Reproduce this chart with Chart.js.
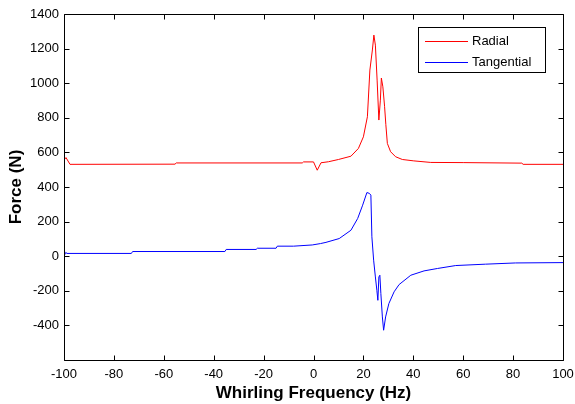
<!DOCTYPE html>
<html>
<head>
<meta charset="utf-8">
<script src="https://cdn.jsdelivr.net/npm/chart.js@4/dist/chart.umd.min.js"></script>
<style>
html,body{margin:0;padding:0;background:#fff;}
#wrap{width:575px;height:404px;position:relative;}
</style>
</head>
<body>
<div id="wrap"><canvas id="c" width="575" height="404"></canvas></div>
<script>
const xTitle = "Whirling Frequency (Hz)";
const yTitle = "Force (N)";
const seriesNames = ["Radial", "Tangential"];

const radialFreq  = [-100, -99.2, -97.6, -55.5, -55, -4.5, -4, 0, 1.5, 3, 6, 10, 15, 18, 20, 21.6, 22.6, 23.6, 24.2, 24.8, 25.5, 26.2, 26.8, 27.2, 27.8, 28.5, 29.0, 29.6, 30.9, 32.9, 35.6, 40.2, 47, 60, 83.5, 84, 100];
const radialForce = [555, 570, 531, 532, 539, 539, 545, 545, 497, 540, 546, 559, 578, 623, 690, 806, 1076, 1192, 1278, 1220, 1018, 787, 902, 1030, 979, 864, 760, 652, 604, 575, 559, 551, 542, 541, 538, 531, 531];

const tangFreq  = [-100, -99.3, -98.8, -73, -72.5, -35.5, -35, -23, -22.5, -15, -14.5, -8, -0.5, 2.8, 5, 10.3, 15, 17.7, 19.7, 21.4, 22.4, 23, 23.4, 24.1, 24.8, 25.4, 25.8, 26.2, 26.6, 27, 27.6, 28.1, 28.9, 30.2, 32.3, 34.3, 39, 44.3, 49.7, 57, 69, 81, 100];
const tangForce = [0, 22, 16, 16, 27, 27, 39, 39, 46, 46, 58, 58, 65, 73, 80, 102, 150, 218, 295, 368, 363, 353, 112, -23, -120, -197, -255, -120, -110, -216, -351, -428, -351, -274, -206, -164, -110, -85, -71, -54, -46, -39, -37];

const xTicks = [-100, -80, -60, -40, -20, 0, 20, 40, 60, 80, 100];
const yTicks = [-600, -400, -200, 0, 200, 400, 600, 800, 1000, 1200, 1400];

const toPts = (xs, ys) => xs.map((x, i) => ({x: x, y: ys[i]}));

const boxPlugin = {
  id: 'matlabBox',
  afterDraw(chart) {
    const ctx = chart.ctx;
    const a = chart.chartArea;
    const xs = chart.scales.x, ys = chart.scales.y;
    ctx.save();
    ctx.strokeStyle = '#000';
    ctx.lineWidth = 1;
    const L = Math.round(a.left) + 0.5, R = Math.round(a.right) + 0.5;
    const T = Math.round(a.top) + 0.5, B = Math.round(a.bottom) + 0.5;
    ctx.beginPath();
    ctx.rect(L, T, R - L, B - T);
    ctx.stroke();
    const tl = 5;
    ctx.beginPath();
    xTicks.forEach(v => {
      const px = Math.round(xs.getPixelForValue(v)) + 0.5;
      ctx.moveTo(px, B); ctx.lineTo(px, B - tl);
      ctx.moveTo(px, T); ctx.lineTo(px, T + tl);
    });
    yTicks.forEach(v => {
      const py = Math.round(ys.getPixelForValue(v)) + 0.5;
      ctx.moveTo(L, py); ctx.lineTo(L + tl, py);
      ctx.moveTo(R, py); ctx.lineTo(R - tl, py);
    });
    ctx.stroke();

    // legend
    const lx = 418.5, ly = 27.5, lw = 127, lh = 45;
    ctx.fillStyle = '#fff';
    ctx.fillRect(lx, ly, lw, lh);
    ctx.strokeStyle = '#000';
    ctx.strokeRect(lx, ly, lw, lh);
    ctx.font = '13px "Liberation Sans", Arial, sans-serif';
    ctx.textBaseline = 'middle';
    ctx.textAlign = 'left';
    chart.data.datasets.forEach((ds, i) => {
      const yy = Math.round(ly + 13 + i * 21.5) + 0.5;
      ctx.strokeStyle = ds.borderColor;
      ctx.beginPath();
      ctx.moveTo(425, yy); ctx.lineTo(468, yy);
      ctx.stroke();
      ctx.fillStyle = '#000';
      ctx.fillText(ds.label, 472, yy);
    });
    ctx.restore();
  }
};

new Chart(document.getElementById('c'), {
  type: 'line',
  data: {
    datasets: [
      {label: seriesNames[0], data: toPts(radialFreq, radialForce), borderColor: '#ff0000', borderWidth: 1, pointRadius: 0, tension: 0, fill: false},
      {label: seriesNames[1], data: toPts(tangFreq, tangForce), borderColor: '#0000ff', borderWidth: 1, pointRadius: 0, tension: 0, fill: false}
    ]
  },
  options: {
    responsive: false,
    animation: false,
    devicePixelRatio: 1,
    layout: {padding: {top: 14, right: 12, left: 0, bottom: 0}},
    plugins: {legend: {display: false}, tooltip: {enabled: false}},
    scales: {
      x: {
        type: 'linear', min: -100, max: 100,
        afterBuildTicks: s => { s.ticks = xTicks.map(v => ({value: v})); },
        afterFit: s => { s.height = 44; s.paddingLeft = 0; s.paddingRight = 0; },
        grid: {display: false, drawTicks: false},
        border: {display: false},
        ticks: {color: '#000', padding: 7, font: {family: '"Liberation Sans", Arial, sans-serif', size: 13}, maxRotation: 0, autoSkip: false},
        title: {display: true, text: xTitle, color: '#000', font: {family: '"Liberation Sans", Arial, sans-serif', size: 17, weight: 'bold'}, padding: 0}
      },
      y: {
        type: 'linear', min: -600, max: 1400,
        afterBuildTicks: s => { s.ticks = yTicks.map(v => ({value: v})); },
        afterFit: s => { s.width = 64; s.paddingTop = 0; s.paddingBottom = 0; },
        grid: {display: false, drawTicks: false},
        border: {display: false},
        ticks: {color: '#000', padding: 5, font: {family: '"Liberation Sans", Arial, sans-serif', size: 13},
          callback: v => (v === -600 ? '' : String(v))},
        title: {display: true, text: yTitle, color: '#000', font: {family: '"Liberation Sans", Arial, sans-serif', size: 17, weight: 'bold'}, padding: {top: 6, bottom: 0}}
      }
    }
  },
  plugins: [boxPlugin]
});
</script>
</body>
</html>
